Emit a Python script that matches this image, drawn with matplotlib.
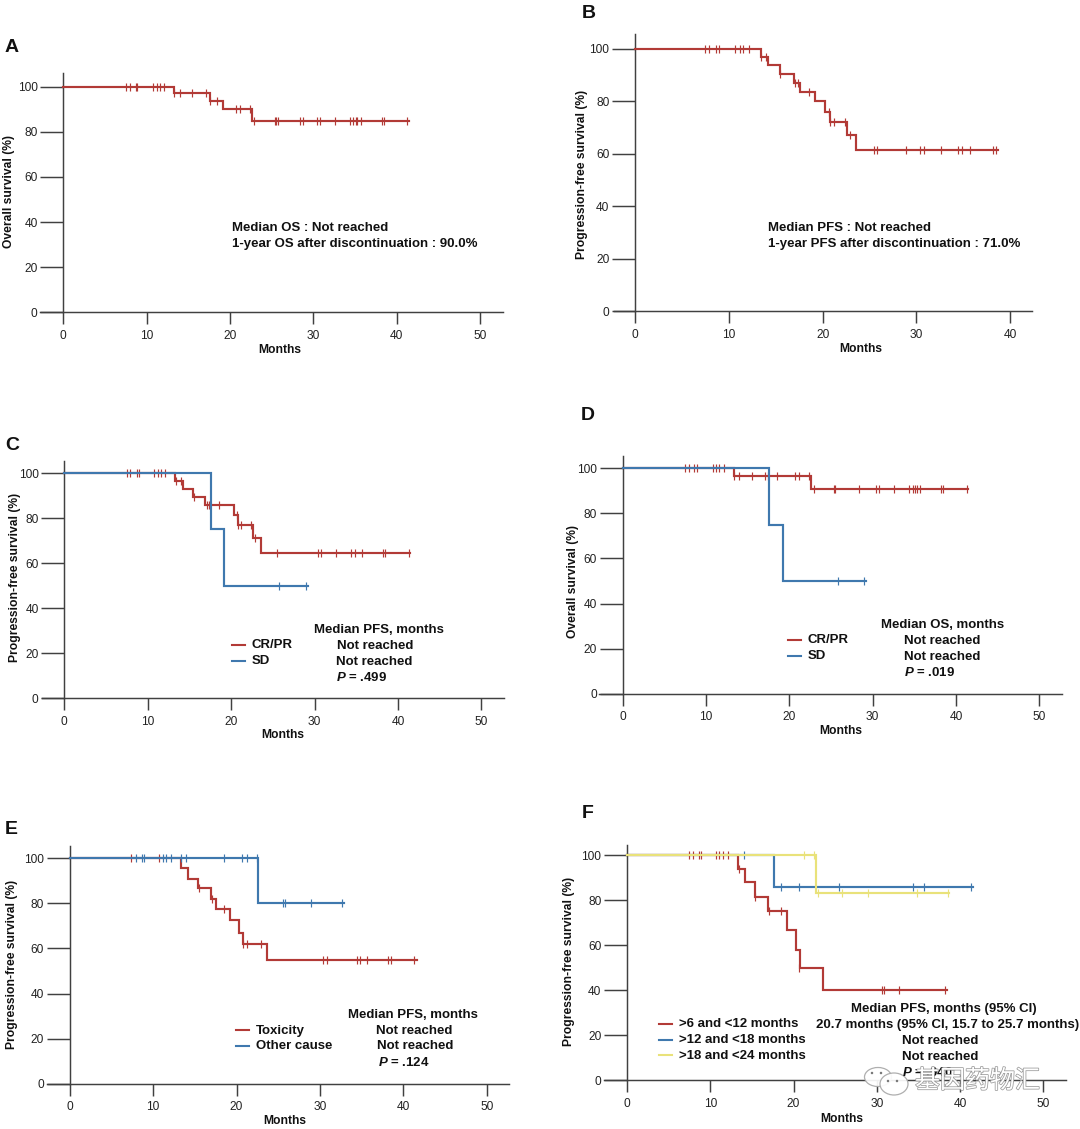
import matplotlib
matplotlib.use("Agg")
import matplotlib.pyplot as plt
import matplotlib.patheffects as pe
from matplotlib.patches import Ellipse, Circle

plt.rcParams['font.family'] = ['Liberation Sans', 'Noto Sans CJK SC', 'DejaVu Sans']
plt.rcParams['mathtext.fontset'] = 'custom'
plt.rcParams['mathtext.bfit'] = 'Liberation Sans:italic:bold'
plt.rcParams['mathtext.bf'] = 'Liberation Sans:bold'
plt.rcParams['mathtext.rm'] = 'Liberation Sans'
plt.rcParams['mathtext.it'] = 'Liberation Sans:italic'

W, H = 1080, 1129
RED, BLUE, YEL = '#B23A36', '#3F78AE', '#E9E27A'
AXC = '#404040'

# ---------- data ----------
a_t = [0, 13.3, 17.6, 19.2, 22.6, 41.5]
a_s = [100, 97, 93.8, 90, 85, 85]
a_ct = [7.5, 8, 8.7, 8.9, 10.8, 11.2, 11.6, 12.1, 13.3, 14, 15.5, 17.1, 17.6, 18.5, 20.7, 21.2, 22.4,
        22.9, 25.4, 25.5, 25.8, 28.4, 28.8, 30.4, 30.8, 32.6, 34.4, 34.8, 35.1, 35.3, 35.7, 38.2, 38.5, 41.3]
a_cs = [100] * 8 + [97] * 4 + [93.8] * 2 + [90] * 3 + [85] * 17

b_t = [0, 13.4, 14.2, 15.5, 16.9, 17.6, 19.2, 20.3, 20.8, 22.6, 23.6, 38.7]
b_s = [100, 97, 93.8, 90.5, 87, 83.5, 80, 76, 72, 67, 61.5, 61.5]
b_ct = [7.5, 7.9, 8.6, 8.9, 10.7, 11.2, 11.5, 12.1, 13.4, 14.0, 15.5, 17.1, 17.4, 18.5, 20.7, 20.8, 21.2, 22.4,
        22.9, 25.5, 25.8, 28.9, 30.4, 30.8, 32.6, 34.4, 34.8, 35.7, 38.2, 38.5]
b_cs = [100] * 8 + [97] * 2 + [90.5] + [87] * 2 + [83.5, 76] + [72] * 3 + [67] + [61.5] * 11

c1_t = [0, 13.3, 14.2, 15.4, 16.9, 20.3, 20.8, 22.6, 23.6, 41.5]
c1_s = [100, 96.3, 93, 89.5, 85.7, 81.5, 77, 71, 64.5, 64.5]
c1_ct = [7.5, 7.9, 8.7, 8.9, 10.7, 11.2, 11.6, 12.1, 13.4, 14.0, 15.5, 17.1, 17.4, 18.5, 20.7, 20.8, 21.2, 22.4,
         22.9, 25.5, 30.4, 30.8, 32.6, 34.4, 34.8, 35.7, 38.2, 38.5, 41.3]
c1_cs = [100] * 8 + [96.3] * 2 + [89.5] + [85.7] * 3 + [81.5] + [77] * 3 + [71] + [64.5] * 10
sd_t = [0, 17.6, 19.2, 29.2]
sd_s = [100, 75, 50, 50]
sd_ct = [25.8, 29]
sd_cs = [50, 50]

d1_t = [0, 13.3, 22.6, 41.4]
d1_s = [100, 96.5, 91, 91]
d1_ct = [7.5, 7.9, 8.6, 8.9, 10.8, 11.2, 11.6, 12.1, 13.3, 14, 15.5, 17.1, 17.4, 18.5, 20.7, 21.1, 22.4,
         22.9, 25.4, 25.5, 28.4, 30.4, 30.8, 32.6, 34.4, 34.8, 35.1, 35.3, 35.7, 38.2, 38.5, 41.3]
d1_cs = [100] * 8 + [96.5] * 9 + [91] * 15

e1_t = [0, 13.3, 14.2, 15.4, 16.9, 17.6, 19.2, 20.3, 20.8, 23.6, 41.6]
e1_s = [100, 95.5, 91, 87, 82, 77.5, 72.5, 67, 62, 55, 55]
e1_ct = [7.4, 10.7, 15.5, 17.1, 18.5, 20.8, 21.2, 22.9, 30.4, 30.8, 34.4, 34.8, 35.7, 38.2, 38.5, 41.3]
e1_cs = [100, 100, 87, 82, 77.5, 62, 62, 62, 55, 55, 55, 55, 55, 55, 55, 55]
e2_t = [0, 22.6, 32.9]
e2_s = [100, 80, 80]
e2_ct = [7.9, 8.7, 8.9, 11.2, 11.5, 12.1, 13.4, 14.0, 18.5, 20.7, 21.2, 22.4, 25.6, 25.8, 28.9, 32.6]
e2_cs = [100] * 12 + [80] * 4

f1_t = [0, 13.3, 14.2, 15.4, 16.9, 19.2, 20.3, 20.8, 23.6, 38.4]
f1_s = [100, 94, 88, 81.5, 75, 66.5, 58, 50, 40, 40]
f1_ct = [7.5, 7.9, 8.6, 8.9, 10.7, 11.1, 11.5, 12.1, 13.4, 15.4, 17.1, 18.5, 20.7, 30.6, 30.9, 32.7, 38.2]
f1_cs = [100] * 8 + [94, 81.5, 75, 75, 50, 40, 40, 40, 40]
f2_t = [0, 17.6, 41.5]
f2_s = [100, 85.7, 85.7]
f2_ct = [14, 18.5, 20.7, 25.5, 34.4, 35.7, 41.3]
f2_cs = [100] + [85.7] * 6
f3_t = [0, 22.7, 38.7]
f3_s = [100, 83.3, 83.3]
f3_ct = [21.2, 22.4, 23, 25.8, 28.9, 34.8, 38.5]
f3_cs = [100, 100, 83.3, 83.3, 83.3, 83.3, 83.3]

y_ticks = [0, 20, 40, 60, 80, 100]
x_ticks_50 = [0, 10, 20, 30, 40, 50]
x_ticks_40 = [0, 10, 20, 30, 40]

fig = plt.figure(figsize=(W / 100, H / 100), dpi=100, facecolor='white')


def panel(letter, lx, ly, x0, x_ref, ref_val, y100, y0, left, right, top, xticks, ylabel, xlab_x, xlab_y, ylab_x, ylab_y):
    ax = fig.add_axes([left / W, 1 - y0 / H, (right - left) / W, (y0 - top) / H])
    ppm = (x_ref - x0) / ref_val
    ax.set_xlim((left - x0) / ppm, (right - x0) / ppm)
    ax.set_ylim(0, (y0 - top) / (y0 - y100) * 100)
    ax.patch.set_alpha(0)
    for s in ('top', 'right'):
        ax.spines[s].set_visible(False)
    ax.spines['left'].set_position(('data', 0))
    for s in ('left', 'bottom'):
        ax.spines[s].set_color(AXC)
        ax.spines[s].set_linewidth(1.05)
    ax.set_xticks(xticks)
    ax.set_yticks(y_ticks)
    ax.tick_params(axis='y', length=16.5, width=1.05, color=AXC, labelsize=8.6, labelcolor='#222222', pad=2)
    ax.tick_params(axis='x', length=8.6, width=1.05, color=AXC, labelsize=8.6, labelcolor='#222222', pad=4)
    fig.text(lx / W, 1 - ly / H, letter, fontsize=14, fontweight='bold', color='#111111', va='center', ha='left')
    fig.text(xlab_x / W, 1 - xlab_y / H, 'Months', fontsize=8.7, fontweight='bold', color='#111111', ha='center', va='center')
    fig.text((ylab_x + 2) / W, 1 - ylab_y / H, ylabel, fontsize=8.75, fontweight='bold', color='#111111', rotation=90, ha='center', va='center')
    return ax


def curve(ax, t, s, ct, cs, color):
    ax.step(t, s, where='post', color=color, lw=1.55, solid_joinstyle='miter', zorder=3, clip_on=False)
    ax.plot(ct, cs, ls='none', marker='|', ms=5.4, mew=0.85, color=color, zorder=3, clip_on=False)


def note(x, y, s, **kw):
    fig.text(x / W, 1 - (y + 0.8) / H, s, fontsize=9.5, fontweight='bold', color='#111111', va='center', ha='left', **kw)


def key(x, y, color, s):
    fig.add_artist(plt.Line2D([x / W, (x + 13) / W], [1 - y / H, 1 - y / H], color=color, lw=1.5))
    note(x + 20, y, s)


# A
ax = panel('A', 5, 48, 63.3, 480, 50, 86.7, 312.3, 40, 503, 73.3, x_ticks_50, 'Overall survival (%)', 280, 350, 7, 191)
curve(ax, a_t, a_s, a_ct, a_cs, RED)
note(231.5, 227.5, 'Median OS : Not reached')
note(231.5, 243.5, '1-year OS after discontinuation : 90.0%')

# B
ax = panel('B', 582, 13, 635, 1010.3, 40, 48.7, 311, 614, 1031.7, 34, x_ticks_40, 'Progression-free survival (%)', 861, 349, 580, 174)
curve(ax, b_t, b_s, b_ct, b_cs, RED)
note(768, 227.5, 'Median PFS : Not reached')
note(768, 243.5, '1-year PFS after discontinuation : 71.0%')

# C
ax = panel('C', 5, 446, 64.3, 481.3, 50, 473, 698.3, 41.7, 504.3, 460.7, x_ticks_50, 'Progression-free survival (%)', 283, 735, 13, 577)
curve(ax, c1_t, c1_s, c1_ct, c1_cs, RED)
curve(ax, sd_t, sd_s, sd_ct, sd_cs, BLUE)
note(314, 629, 'Median PFS, months')
key(232, 644.5, RED, 'CR/PR')
key(232, 660.5, BLUE, 'SD')
note(337, 645, 'Not reached')
note(336, 661, 'Not reached')
note(336.5, 676.5, '$\\bfit{P}$ = .499')

# D
ax = panel('D', 581, 416, 622.7, 1039.3, 50, 468.3, 693.7, 599, 1062, 456, x_ticks_50, 'Overall survival (%)', 841, 730.5, 571, 582)
curve(ax, d1_t, d1_s, d1_ct, d1_cs, RED)
curve(ax, sd_t, sd_s, sd_ct, sd_cs, BLUE)
note(881, 624, 'Median OS, months')
key(788, 639.5, RED, 'CR/PR')
key(788, 655.5, BLUE, 'SD')
note(904, 640, 'Not reached')
note(903.5, 656, 'Not reached')
note(904, 671.5, '$\\bfit{P}$ = .019')

# E
ax = panel('E', 5, 829, 69.7, 486.7, 50, 858.3, 1083.7, 46.7, 509.3, 846, x_ticks_50, 'Progression-free survival (%)', 285, 1120.5, 10, 964)
curve(ax, e1_t, e1_s, e1_ct, e1_cs, RED)
curve(ax, e2_t, e2_s, e2_ct, e2_cs, BLUE)
note(348.5, 1014, 'Median PFS, months')
key(236, 1030, RED, 'Toxicity')
key(236, 1045.5, BLUE, 'Other cause')
note(375.5, 1030, 'Not reached')
note(377, 1045.5, 'Not reached')
note(378.5, 1062, '$\\bfit{P}$ = .124')

# F
ax = panel('F', 582, 813, 627, 1043.3, 50, 855, 1080.3, 604.3, 1066, 845, x_ticks_50, 'Progression-free survival (%)', 842, 1119, 567, 961)
curve(ax, f1_t, f1_s, f1_ct, f1_cs, RED)
curve(ax, f2_t, f2_s, f2_ct, f2_cs, BLUE)
curve(ax, f3_t, f3_s, f3_ct, f3_cs, YEL)
note(851, 1008, 'Median PFS, months (95% CI)')
note(816, 1024, '20.7 months (95% CI, 15.7 to 25.7 months)')
key(659, 1023.5, RED, '>6 and <12 months')
key(659, 1039.5, BLUE, '>12 and <18 months')
key(659, 1055, YEL, '>18 and <24 months')
note(901.5, 1040, 'Not reached')
note(901.5, 1056, 'Not reached')
note(901.5, 1071.5, '$\\bfit{P}$ = .040')

# watermark
for (cx, cy, w, h) in [(878, 1077, 27, 19), (894, 1084, 28, 22)]:
    fig.add_artist(Ellipse((cx / W, 1 - cy / H), w / W, h / H, transform=fig.transFigure,
                           fc='white', ec='#a8a8a8', lw=0.9, alpha=0.92))
for (dx, dy) in [(872, 1073), (881, 1073), (888, 1081), (897, 1081)]:
    fig.add_artist(Ellipse((dx / W, 1 - dy / H), 2.5 / W, 2.5 / H, transform=fig.transFigure, fc='#777777', ec='none'))
fig.text(915 / W, 1 - 1081 / H, '基因药物汇', fontsize=18, color='white', va='center', ha='left',
         family=['Noto Sans CJK SC', 'DejaVu Sans'],
         path_effects=[pe.withStroke(linewidth=1.1, foreground='#9a9a9a')])

fig.savefig('out.png', dpi=100, facecolor='white')
